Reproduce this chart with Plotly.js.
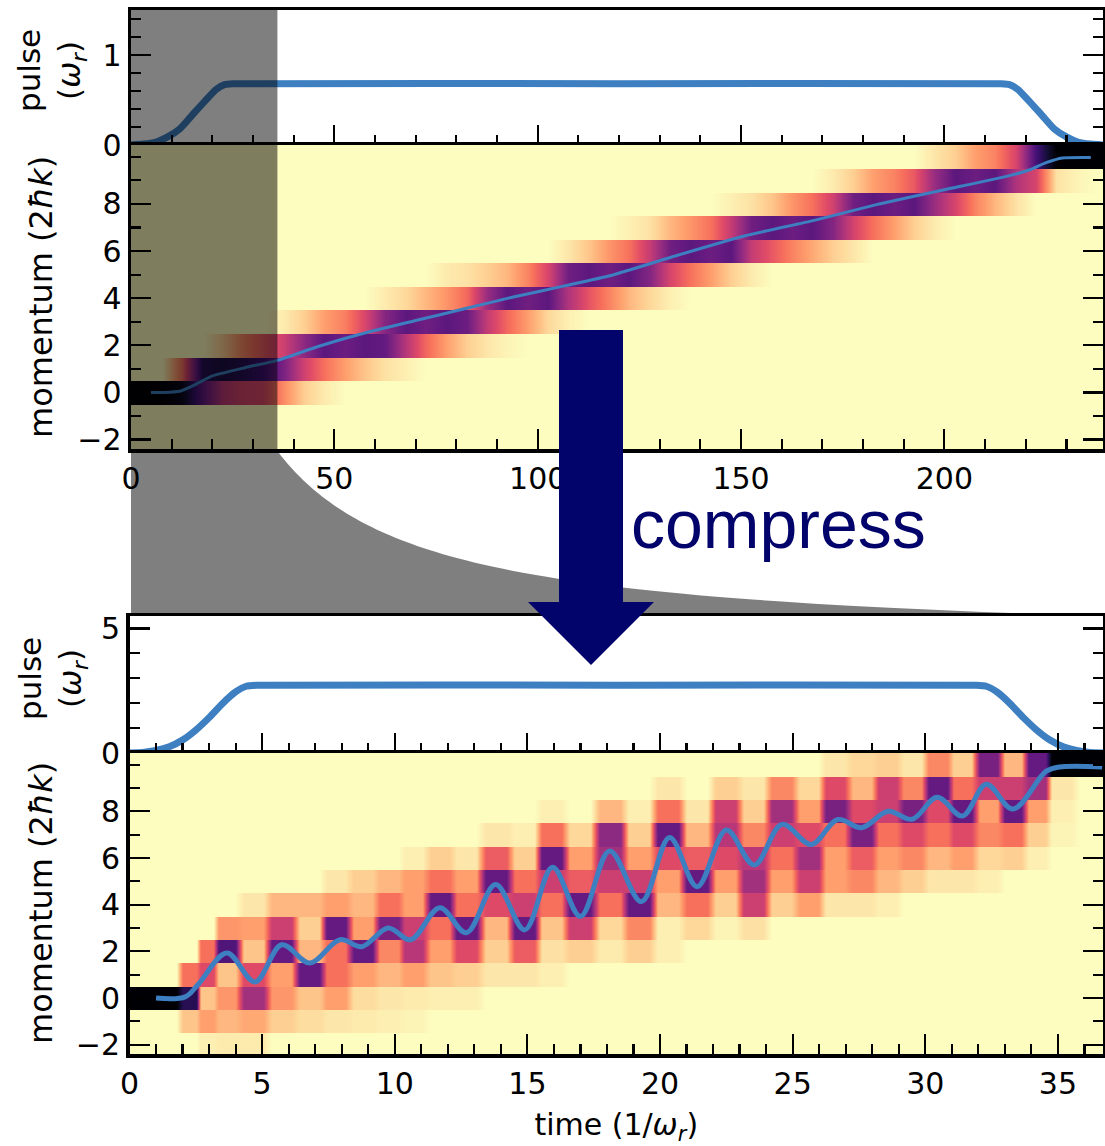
<!DOCTYPE html>
<html>
<head>
<meta charset="utf-8">
<script src="https://cdn.plot.ly/plotly-3.0.1.min.js"></script>
<style>
  html, body { margin: 0; padding: 0; background: #ffffff; }
  #chart { width: 1105px; height: 1146px; }
</style>
</head>
<body>
<div id="chart"></div>
<script>
// ---------------- DATA ----------------
// momentum states (units of 2ħk) used as heatmap rows
const momentumStates = [-2, -1, 0, 1, 2, 3, 4, 5, 6, 7, 8, 9, 10];

// --- upper (long, adiabatic) pulse ---
const topPulseTime  = [0, 3, 6, 9, 12, 15, 18, 21, 23, 25, 120, 214, 216, 218, 221, 224, 227, 230, 233, 236, 239];
const topPulseValue = [0, 0.01, 0.03, 0.09, 0.18, 0.33, 0.48, 0.62, 0.67, 0.68, 0.68, 0.68, 0.67, 0.62, 0.48, 0.33, 0.18, 0.09, 0.03, 0.01, 0];

// heatmap time bins (centres) for the upper panel
const topBinTime = [2.5, 7.5, 12.5, 17.5, 22.5, 27.5, 32.5, 37.5, 42.5, 47.5, 52.5, 57.5, 62.5, 67.5, 72.5, 77.5,
  82.5, 87.5, 92.5, 97.5, 102.5, 107.5, 112.5, 117.5, 122.5, 127.5, 132.5, 137.5, 142.5, 147.5, 152.5, 157.5,
  162.5, 167.5, 172.5, 177.5, 182.5, 187.5, 192.5, 197.5, 202.5, 207.5, 212.5, 217.5, 222.5, 227.5, 232.5, 237.5];
// population per state: [first non-zero bin, values...]
const topPopRows = [
  /* -2 */ [0, []],
  /* -1 */ [0, []],
  /*  0 */ [0, [1, 1, 0.95, 0.72, 0.48, 0.42, 0.4, 0.24, 0.1, 0.04]],
  /*  1 */ [2, [0.3, 0.85, 0.88, 0.85, 0.8, 0.64, 0.44, 0.3, 0.2, 0.12, 0.06, 0.03]],
  /*  2 */ [4, [0.1, 0.25, 0.35, 0.45, 0.6, 0.72, 0.68, 0.72, 0.7, 0.5, 0.32, 0.2, 0.1, 0.05, 0.02]],
  /*  3 */ [7, [0.04, 0.1, 0.2, 0.27, 0.42, 0.62, 0.72, 0.67, 0.72, 0.68, 0.47, 0.32, 0.2, 0.08, 0.03]],
  /*  4 */ [12, [0.04, 0.08, 0.15, 0.22, 0.32, 0.57, 0.72, 0.67, 0.72, 0.52, 0.37, 0.26, 0.15, 0.08, 0.03]],
  /*  5 */ [15, [0.04, 0.06, 0.1, 0.15, 0.26, 0.42, 0.67, 0.72, 0.67, 0.72, 0.62, 0.42, 0.3, 0.2, 0.1, 0.04]],
  /*  6 */ [21, [0.05, 0.12, 0.22, 0.3, 0.47, 0.67, 0.72, 0.68, 0.72, 0.47, 0.36, 0.26, 0.18, 0.1, 0.05]],
  /*  7 */ [24, [0.03, 0.06, 0.15, 0.22, 0.3, 0.47, 0.67, 0.72, 0.68, 0.72, 0.62, 0.43, 0.3, 0.2, 0.1, 0.04]],
  /*  8 */ [29, [0.03, 0.06, 0.12, 0.22, 0.3, 0.44, 0.67, 0.72, 0.68, 0.72, 0.57, 0.42, 0.26, 0.15, 0.06]],
  /*  9 */ [34, [0.04, 0.1, 0.2, 0.26, 0.36, 0.57, 0.72, 0.68, 0.72, 0.52, 0.42, 0.06, 0.02]],
  /* 10 */ [39, [0.05, 0.1, 0.2, 0.26, 0.42, 0.78, 1, 1, 1]]
];
// mean momentum, upper panel
const topMeanTime  = [4, 8, 12, 16, 20, 28, 36, 46, 57, 70, 82, 94, 106, 118, 134, 151, 168, 184, 200, 216, 221, 225, 229, 236];
const topMeanValue = [0, 0, 0.05, 0.35, 0.7, 1.05, 1.36, 1.95, 2.5, 3.05, 3.55, 4.05, 4.5, 4.96, 5.8, 6.65, 7.3, 8.0, 8.6, 9.2, 9.45, 9.75, 9.95, 9.97];

// --- lower (compressed) pulse ---
const bottomPulseTime  = [0, 0.5, 1, 1.5, 2, 2.5, 3, 3.5, 4, 4.4, 4.8, 18.35, 31.9, 32.3, 32.7, 33.2, 33.7, 34.2, 34.7, 35.2, 35.7, 36.2, 36.7];
const bottomPulseValue = [0, 0.02, 0.1, 0.25, 0.52, 0.92, 1.42, 1.98, 2.45, 2.68, 2.72, 2.72, 2.72, 2.68, 2.45, 1.98, 1.42, 0.92, 0.52, 0.25, 0.1, 0.02, 0];

// heatmap time bins (centres) for the lower panel
const bottomBinTime = [0.5, 1.5, 2.3, 2.9, 3.6, 4.7, 5.7, 6.8, 7.8, 8.8, 9.8, 10.7, 11.7, 12.7, 13.8, 14.9, 15.9, 17.0,
  18.1, 19.2, 20.3, 21.4, 22.5, 23.5, 24.6, 25.6, 26.6, 27.6, 28.6, 29.5, 30.5, 31.4, 32.4, 33.3, 34.2, 35.1, 36.2];
const bottomPopRows = [
  /* -2 */ [3, [0.03, 0.04, 0.04]],
  /* -1 */ [2, [0.12, 0.2, 0.15, 0.18, 0.1, 0.07, 0.05, 0.04, 0.03, 0.02]],
  /*  0 */ [0, [1, 1, 0.85, 0.12, 0.22, 0.55, 0.22, 0.12, 0.2, 0.07, 0.05, 0.04, 0.03, 0.03]],
  /*  1 */ [2, [0.3, 0.4, 0.12, 0.4, 0.2, 0.7, 0.3, 0.2, 0.15, 0.2, 0.12, 0.1, 0.05, 0.05, 0.03]],
  /*  2 */ [3, [0.3, 0.75, 0.12, 0.7, 0.15, 0.3, 0.7, 0.25, 0.5, 0.2, 0.4, 0.1, 0.35, 0.06, 0.1, 0.04, 0.1, 0.03]],
  /*  3 */ [4, [0.22, 0.2, 0.45, 0.1, 0.7, 0.2, 0.65, 0.45, 0.3, 0.7, 0.15, 0.7, 0.12, 0.45, 0.08, 0.25, 0.03, 0.08, 0.02, 0.06]],
  /*  4 */ [5, [0.05, 0.15, 0.15, 0.2, 0.15, 0.3, 0.2, 0.7, 0.3, 0.4, 0.45, 0.3, 0.7, 0.3, 0.7, 0.15, 0.3, 0.1, 0.45, 0.1, 0.2, 0.05, 0.05, 0.03]],
  /*  5 */ [8, [0.05, 0.1, 0.15, 0.2, 0.3, 0.2, 0.7, 0.3, 0.45, 0.35, 0.45, 0.45, 0.2, 0.7, 0.2, 0.55, 0.2, 0.45, 0.2, 0.25, 0.15, 0.1, 0.05, 0.05, 0.03]],
  /*  6 */ [11, [0.03, 0.1, 0.05, 0.35, 0.1, 0.7, 0.2, 0.55, 0.2, 0.4, 0.35, 0.4, 0.5, 0.3, 0.55, 0.2, 0.35, 0.2, 0.25, 0.15, 0.2, 0.08, 0.1, 0.03]],
  /*  7 */ [14, [0.05, 0.03, 0.3, 0.08, 0.6, 0.1, 0.7, 0.15, 0.5, 0.25, 0.45, 0.4, 0.3, 0.65, 0.3, 0.4, 0.3, 0.4, 0.25, 0.3, 0.1, 0.02]],
  /*  8 */ [16, [0.03, 0, 0.15, 0.03, 0.3, 0.05, 0.45, 0.1, 0.55, 0.2, 0.65, 0.4, 0.45, 0.65, 0.4, 0.7, 0.2, 0.7, 0.2, 0.03]],
  /*  9 */ [20, [0.05, 0, 0.1, 0.05, 0.25, 0.08, 0.4, 0.15, 0.45, 0.25, 0.7, 0.3, 0.45, 0.45, 0.55, 0.05]],
  /* 10 */ [26, [0.05, 0.08, 0.1, 0.05, 0.25, 0.1, 0.65, 0.15, 0.7, 1, 1]]
];
// mean momentum, lower panel
const bottomMeanTime  = [1.0, 2.1, 2.6, 3.67, 4.73, 5.74, 6.8, 7.93, 8.76, 9.75, 10.6, 11.7, 12.7, 13.8, 14.9, 15.95, 17.0, 18.1,
  19.3, 20.36, 21.4, 22.5, 23.55, 24.6, 25.7, 26.7, 27.6, 28.6, 29.5, 30.45, 31.4, 32.3, 33.3, 34.56, 35.05, 36.67];
const bottomMeanValue = [0, 0.05, 0.6, 1.93, 0.69, 2.28, 1.5, 2.5, 2.2, 3.0, 2.5, 3.87, 2.8, 4.86, 2.92, 5.6, 3.5, 6.3,
  4.13, 6.88, 4.77, 7.2, 5.7, 7.44, 6.58, 7.65, 7.3, 8.0, 7.66, 8.6, 7.8, 9.16, 8.1, 9.72, 9.9, 9.9];

// axis ranges and tick labels
const topTimeRange = [0, 239];
const bottomTimeRange = [0, 36.7];
const compressedWindow = 36;           // part of the upper time axis shown compressed below
const momentumTickVals = [-2, 0, 2, 4, 6, 8];
const momentumTickText = ['\u22122', '0', '2', '4', '6', '8'];

// ---------------- LAYOUT / STYLE ----------------
const W = 1105, H = 1146;
const frame = { xL: 131, xLb: 129.5, xR: 1103, tpTop: 10, tpBot: 145, thBot: 449, bpTop: 616, bpBot: 753, bhBot: 1054 };
const px = x => x / W;
const py = y => 1 - y / H;
const blue = '#3d7fc1';
const navy = '#03036c';
const tickFont = { family: 'DejaVu Sans', size: 30, color: '#000' };

const magmaR = [
  [0.0, '#fcfdbf'], [0.1, '#fecf92'], [0.2, '#fe9f6d'], [0.3, '#f7705c'], [0.4, '#de4968'],
  [0.5, '#b73779'], [0.6, '#8c2981'], [0.7, '#641a80'], [0.8, '#3b0f70'], [0.9, '#140e36'], [1.0, '#000004']
];

// Build the table Plotly needs: each state row is given two y positions just inside its
// band (so rows keep sharp edges under smoothing); optionally each time bin gets a flat top.
const ROW_HALF = 0.48;
function buildHeat(rows, times, flatFrac) {
  const nCols = times.length;
  const grid = rows.map(([first, vals]) => {
    const r = new Array(nCols).fill(0);
    vals.forEach((v, i) => { r[first + i] = v; });
    return r;
  });
  let xs = times.slice(), colIdx = times.map((_, i) => i);
  if (flatFrac) {
    xs = []; colIdx = [];
    times.forEach((t, i) => {
      const l = i === 0 ? t - 0.5 : t - flatFrac * (t - times[i - 1]);
      const r = i === nCols - 1 ? t + 0.5 : t + flatFrac * (times[i + 1] - t);
      xs.push(l, r); colIdx.push(i, i);
    });
  }
  const ys = [], z = [];
  momentumStates.forEach((m, k) => {
    const row = colIdx.map(i => grid[k][i]);
    ys.push(m - ROW_HALF, m + ROW_HALF);
    z.push(row, row.slice());
  });
  return { x: xs, y: ys, z: z };
}
const topHeat = buildHeat(topPopRows, topBinTime, 0);
const bottomHeat = buildHeat(bottomPopRows, bottomBinTime, 0.36);

function axisBase(extra) {
  return Object.assign({
    showline: true, linecolor: '#000', linewidth: 3.5,
    ticks: 'inside', ticklen: 20, tickwidth: 2.2, tickcolor: '#000',
    showgrid: false, zeroline: false, tickfont: tickFont, fixedrange: true
  }, extra);
}
function minor(dtick) {
  return { ticks: 'inside', ticklen: 10, tickwidth: 2.2, tickcolor: '#000', dtick: dtick, tick0: 0, showgrid: false };
}

const traces = [
  { type: 'scatter', mode: 'lines', x: topPulseTime, y: topPulseValue, xaxis: 'x', yaxis: 'y',
    line: { color: blue, width: 7, shape: 'spline', smoothing: 0.6 }, hoverinfo: 'skip' },
  { type: 'heatmap', x: topHeat.x, y: topHeat.y, z: topHeat.z, zsmooth: 'best',
    xaxis: 'x2', yaxis: 'y2', colorscale: magmaR, zmin: 0, zmax: 1, showscale: false, hoverinfo: 'skip' },
  { type: 'scatter', mode: 'lines', x: topMeanTime, y: topMeanValue, xaxis: 'x2', yaxis: 'y2',
    line: { color: blue, width: 3, shape: 'spline', smoothing: 0.5 }, hoverinfo: 'skip' },
  { type: 'scatter', mode: 'lines', x: bottomPulseTime, y: bottomPulseValue, xaxis: 'x3', yaxis: 'y3',
    line: { color: blue, width: 7, shape: 'spline', smoothing: 0.6 }, hoverinfo: 'skip' },
  { type: 'heatmap', x: bottomHeat.x, y: bottomHeat.y, z: bottomHeat.z, zsmooth: 'best',
    xaxis: 'x4', yaxis: 'y4', colorscale: magmaR, zmin: 0, zmax: 1, showscale: false, hoverinfo: 'skip' },
  { type: 'scatter', mode: 'lines', x: bottomMeanTime, y: bottomMeanValue, xaxis: 'x4', yaxis: 'y4',
    line: { color: blue, width: 5, shape: 'spline', smoothing: 1 }, hoverinfo: 'skip' }
];

// funnel linking the compressed window of the upper axis to the full lower axis
const fullW = frame.xR - frame.xL;
const w0 = (compressedWindow - topTimeRange[0]) / (topTimeRange[1] - topTimeRange[0]) * fullW;
const yTopF = frame.thBot + 2, yBotF = frame.bpTop;
let funnel = `M ${px(frame.xL)},${py(yTopF)}`;
for (let k = 0; k <= 80; k++) {
  const s = k / 80;
  const w = 1 / ((1 - s) / w0 + s / fullW);
  funnel += ` L ${px(frame.xL + w)},${py(yTopF + s * (yBotF - yTopF))}`;
}
funnel += ` L ${px(frame.xL)},${py(yBotF)} Z`;

// arrow outline (pixels)
const A = { sl: 559, sr: 623, top: 330, base: 602, hl: 528, hr: 654, tipX: 591, tipY: 665 };
const arrow = `M ${px(A.sl)},${py(A.top)} L ${px(A.sr)},${py(A.top)} L ${px(A.sr)},${py(A.base)} L ${px(A.hr)},${py(A.base)} ` +
  `L ${px(A.tipX)},${py(A.tipY)} L ${px(A.hl)},${py(A.base)} L ${px(A.sl)},${py(A.base)} Z`;

const layout = {
  width: W, height: H, autosize: false,
  margin: { l: 0, r: 0, t: 0, b: 0, pad: 0 },
  paper_bgcolor: '#ffffff', plot_bgcolor: '#ffffff',
  showlegend: false,
  font: { family: 'DejaVu Sans', color: '#000' },
  xaxis: axisBase({ domain: [px(frame.xL), px(frame.xR)], anchor: 'y', range: topTimeRange, mirror: true,
    tickmode: 'linear', tick0: 0, dtick: 50, minor: minor(10), showticklabels: false }),
  yaxis: axisBase({ domain: [py(frame.tpBot), py(frame.tpTop)], anchor: 'x', range: [0, 1.5], mirror: 'ticks',
    tickmode: 'array', tickvals: [0, 1], ticktext: ['0', '1'], minor: minor(0.2) }),
  xaxis2: axisBase({ domain: [px(frame.xL), px(frame.xR)], anchor: 'y2', range: topTimeRange, mirror: true,
    tickmode: 'linear', tick0: 0, dtick: 50, minor: minor(10) }),
  yaxis2: axisBase({ domain: [py(frame.thBot), py(frame.tpBot)], anchor: 'x2', range: [-2.4, 10.5], mirror: 'ticks',
    tickmode: 'array', tickvals: momentumTickVals, ticktext: momentumTickText, minor: minor(1) }),
  xaxis3: axisBase({ domain: [px(frame.xLb), px(frame.xR)], anchor: 'y3', range: bottomTimeRange, mirror: true,
    tickmode: 'linear', tick0: 0, dtick: 5, minor: minor(1), showticklabels: false }),
  yaxis3: axisBase({ domain: [py(frame.bpBot), py(frame.bpTop)], anchor: 'x3', range: [0, 5.5], mirror: 'ticks',
    tickmode: 'array', tickvals: [0, 5], ticktext: ['0', '5'], minor: minor(1) }),
  xaxis4: axisBase({ domain: [px(frame.xLb), px(frame.xR)], anchor: 'y4', range: bottomTimeRange, mirror: true,
    tickmode: 'linear', tick0: 0, dtick: 5, minor: minor(1),
    title: { text: 'time (1/<i>ω</i><sub><i>r</i></sub>)', font: { family: 'DejaVu Sans', size: 30, color: '#000' }, standoff: 16 } }),
  yaxis4: axisBase({ domain: [py(frame.bhBot), py(frame.bpBot)], anchor: 'x4', range: [-2.4, 10.5], mirror: 'ticks',
    tickmode: 'array', tickvals: momentumTickVals, ticktext: momentumTickText, minor: minor(1) }),
  shapes: [
    { type: 'rect', xref: 'x', yref: 'paper', x0: 0, x1: compressedWindow, y0: py(frame.thBot), y1: py(frame.tpTop),
      fillcolor: 'rgba(0,0,0,0.5)', line: { width: 0 }, layer: 'above' },
    { type: 'path', xref: 'paper', yref: 'paper', path: funnel, fillcolor: 'rgba(0,0,0,0.5)', line: { width: 0 }, layer: 'above' },
    { type: 'path', xref: 'paper', yref: 'paper', path: arrow, fillcolor: navy, line: { width: 0 }, layer: 'above' }
  ],
  annotations: [
    { xref: 'paper', yref: 'paper', x: px(778), y: py(524), xanchor: 'center', yanchor: 'middle', showarrow: false,
      text: 'compress', font: { family: 'Liberation Sans', size: 68, color: navy } },
    { xref: 'paper', yref: 'paper', x: px(52), y: py(71), xanchor: 'center', yanchor: 'middle', showarrow: false,
      textangle: -90, text: 'pulse<br>(<i>ω</i><sub><i>r</i></sub>)', font: { family: 'DejaVu Sans', size: 31, color: '#000' } },
    { xref: 'paper', yref: 'paper', x: px(41), y: py(297), xanchor: 'center', yanchor: 'middle', showarrow: false,
      textangle: -90, text: 'momentum (2<i>ħk</i>)', font: { family: 'DejaVu Sans', size: 32, color: '#000' } },
    { xref: 'paper', yref: 'paper', x: px(52), y: py(679), xanchor: 'center', yanchor: 'middle', showarrow: false,
      textangle: -90, text: 'pulse<br>(<i>ω</i><sub><i>r</i></sub>)', font: { family: 'DejaVu Sans', size: 31, color: '#000' } },
    { xref: 'paper', yref: 'paper', x: px(41), y: py(903), xanchor: 'center', yanchor: 'middle', showarrow: false,
      textangle: -90, text: 'momentum (2<i>ħk</i>)', font: { family: 'DejaVu Sans', size: 32, color: '#000' } }
  ]
};

Plotly.newPlot('chart', traces, layout, { staticPlot: true, displayModeBar: false });
</script>
</body>
</html>
